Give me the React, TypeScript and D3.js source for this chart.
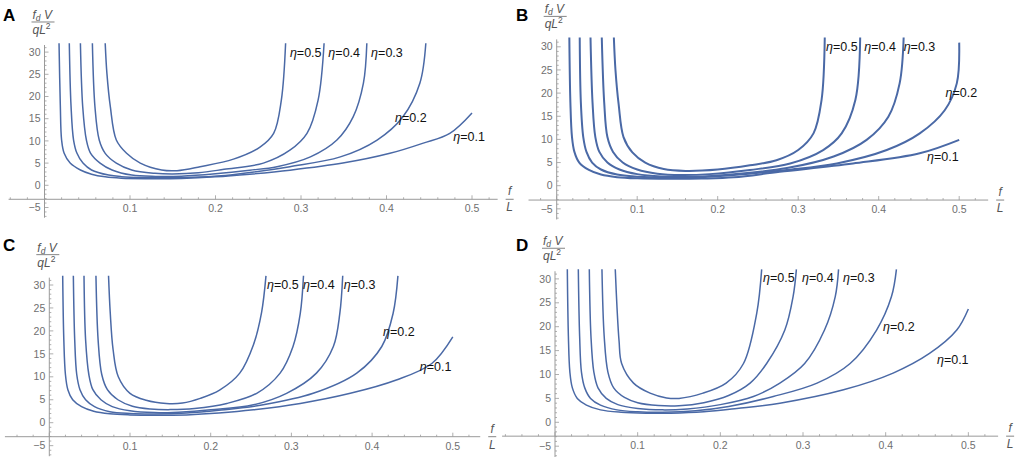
import React from 'react';
import * as d3 from 'd3';

// eta values shown next to the curves
const etaValues = ['0.1', '0.2', '0.3', '0.4', '0.5'];
const xTickValues = [0.1, 0.2, 0.3, 0.4, 0.5];
const yTickValues = [-5, 0, 5, 10, 15, 20, 25, 30];

// Panel A curves, [f/L, fdV/qL^2]
const a1 = [[0.017, 32], [0.0185, 18], [0.02, 10.2], [0.023, 7.2], [0.03, 5], [0.042, 3.45], [0.055, 2.5], [0.071, 1.9], [0.09, 1.6], [0.12, 1.5], [0.16, 1.55], [0.2, 1.9], [0.24, 2.5], [0.287, 3.4], [0.349, 5], [0.404, 7.2], [0.443, 9.5], [0.474, 11.7], [0.5, 16.3]];
const a2 = [[0.029, 32], [0.031, 18], [0.034, 10.2], [0.038, 7.2], [0.045, 5], [0.055, 3.45], [0.075, 2.3], [0.09, 1.95], [0.12, 1.75], [0.15, 1.7], [0.18, 1.85], [0.22, 2.4], [0.287, 4.2], [0.346, 6.4], [0.389, 10.2], [0.419, 15.4], [0.439, 23], [0.446, 32]];
const a3 = [[0.042, 32], [0.0447, 17.7], [0.049, 10.2], [0.054, 7.2], [0.065, 5], [0.079, 3.45], [0.102, 2.3], [0.13, 2.0], [0.16, 2.05], [0.2, 2.6], [0.24, 3.4], [0.272, 4.2], [0.311, 6.4], [0.342, 10.2], [0.361, 15.4], [0.373, 23], [0.377, 32]];
const a4 = [[0.056, 32], [0.059, 17.7], [0.064, 10.2], [0.071, 7.2], [0.084, 5], [0.102, 3.45], [0.129, 2.7], [0.15, 2.55], [0.18, 2.8], [0.21, 3.6], [0.256, 5], [0.287, 7.9], [0.307, 11.7], [0.32, 19.2], [0.327, 32]];
const a5 = [[0.071, 32], [0.073, 25.2], [0.077, 17.7], [0.084, 10.2], [0.096, 7.2], [0.112, 5], [0.137, 3.45], [0.155, 3.3], [0.182, 4.2], [0.221, 5.9], [0.252, 8.6], [0.268, 11.7], [0.277, 19.2], [0.282, 32]];

// Panel B curves
const b1 = [[0.0157, 32], [0.017, 18], [0.019, 10.5], [0.022, 7.3], [0.028, 5], [0.04, 3.4], [0.055, 2.4], [0.075, 1.85], [0.1, 1.6], [0.14, 1.5], [0.18, 1.55], [0.22, 1.8], [0.277, 3], [0.368, 4.8], [0.451, 7], [0.5, 9.9]];
const b2 = [[0.0286, 32], [0.03, 18], [0.033, 10.5], [0.037, 7.3], [0.044, 5], [0.055, 3.5], [0.075, 2.4], [0.1, 1.95], [0.14, 1.75], [0.18, 1.85], [0.22, 2.3], [0.286, 3.4], [0.348, 4.8], [0.41, 7.7], [0.451, 11.3], [0.482, 16.3], [0.497, 22.1], [0.5, 30.9]];
const b3 = [[0.042, 32], [0.0445, 18], [0.048, 10.5], [0.053, 7.3], [0.063, 5], [0.078, 3.5], [0.1, 2.5], [0.13, 2.0], [0.17, 1.95], [0.22, 2.5], [0.286, 3.8], [0.344, 6.3], [0.385, 9.9], [0.412, 14.9], [0.426, 22.1], [0.431, 32]];
const b4 = [[0.056, 32], [0.059, 18], [0.063, 10.5], [0.07, 7.3], [0.082, 5], [0.1, 3.5], [0.125, 2.6], [0.155, 2.3], [0.19, 2.5], [0.24, 3.4], [0.29, 4.8], [0.331, 7.7], [0.354, 11.3], [0.371, 18.5], [0.377, 32]];
const b5 = [[0.071, 32], [0.073, 25], [0.077, 17.5], [0.083, 10.5], [0.094, 7.2], [0.11, 5], [0.133, 3.6], [0.16, 3.2], [0.2, 3.5], [0.24, 4.4], [0.273, 5.5], [0.3, 7.7], [0.319, 11.3], [0.329, 18.5], [0.333, 32]];

// Panel C curves
const c1 = [[0.0166, 32], [0.018, 18], [0.02, 10.5], [0.023, 7.2], [0.029, 5], [0.04, 3.5], [0.055, 2.5], [0.075, 1.95], [0.1, 1.7], [0.13, 1.6], [0.17, 1.7], [0.21, 2.1], [0.253, 2.8], [0.311, 4.2], [0.373, 6.4], [0.43, 9.3], [0.474, 12.9], [0.5, 18.7]];
const c2 = [[0.0298, 32], [0.0315, 18], [0.034, 10.5], [0.038, 7.2], [0.045, 5], [0.056, 3.5], [0.075, 2.4], [0.1, 2.0], [0.13, 1.9], [0.17, 2.1], [0.21, 2.7], [0.265, 3.9], [0.327, 6.4], [0.381, 10.8], [0.412, 16.6], [0.426, 23.8], [0.432, 32]];
const c3 = [[0.043, 32], [0.045, 18], [0.049, 10.5], [0.054, 7.2], [0.064, 5], [0.078, 3.5], [0.1, 2.6], [0.13, 2.2], [0.16, 2.3], [0.2, 2.8], [0.253, 3.9], [0.294, 6.4], [0.331, 10.8], [0.352, 16.6], [0.36, 23.8], [0.3636, 32]];
const c4 = [[0.0578, 32], [0.0605, 18], [0.065, 10.5], [0.072, 7.2], [0.085, 5], [0.103, 3.6], [0.125, 3.0], [0.15, 2.85], [0.18, 3.1], [0.22, 4.2], [0.257, 6.4], [0.286, 10.8], [0.302, 16.6], [0.311, 23.8], [0.315, 32]];
const c5 = [[0.0734, 32], [0.0755, 24], [0.079, 16], [0.0855, 10], [0.1, 6.4], [0.12, 4.9], [0.145, 4.2], [0.165, 4.3], [0.187, 5.3], [0.211, 7.1], [0.236, 10.8], [0.253, 17], [0.263, 24], [0.2685, 32]];

// Panel D curves
const d1 = [[0.0149, 32], [0.0162, 18], [0.018, 10.5], [0.021, 7.2], [0.027, 5], [0.038, 3.6], [0.055, 2.6], [0.08, 2.1], [0.11, 1.9], [0.14, 1.9], [0.18, 2.2], [0.22, 2.9], [0.272, 4.0], [0.349, 6.8], [0.409, 10.3], [0.453, 14.4], [0.486, 19.3], [0.5, 23.7]];
const d2 = [[0.0282, 32], [0.0298, 18], [0.032, 10.5], [0.036, 7.2], [0.043, 5], [0.055, 3.6], [0.075, 2.6], [0.1, 2.2], [0.13, 2.1], [0.17, 2.4], [0.21, 3.3], [0.264, 5.4], [0.317, 8.2], [0.357, 12.3], [0.389, 19.3], [0.407, 26.3], [0.413, 32]];
const d3c = [[0.0415, 32], [0.0435, 18], [0.047, 10.5], [0.052, 7.2], [0.062, 5], [0.076, 3.7], [0.1, 2.9], [0.13, 2.6], [0.16, 2.8], [0.2, 3.7], [0.24, 5.4], [0.272, 8.2], [0.302, 12.3], [0.326, 19.3], [0.339, 26.3], [0.343, 32]];
const d4 = [[0.0568, 32], [0.0595, 18], [0.064, 10.5], [0.071, 7.2], [0.084, 5.2], [0.1, 4.1], [0.125, 3.5], [0.15, 3.45], [0.18, 4.1], [0.21, 5.6], [0.236, 8.2], [0.256, 12.3], [0.278, 19.3], [0.288, 26.3], [0.292, 32]];
const d5 = [[0.0729, 32], [0.075, 24], [0.0775, 17], [0.0806, 12.3], [0.095, 8.2], [0.115, 6.1], [0.135, 5.1], [0.15, 5.0], [0.179, 6.1], [0.207, 8.2], [0.228, 12.3], [0.244, 22.8], [0.25, 32]];

// label anchors (data coords) for eta = 0.1 ... 0.5
const labelsA = [[0.478, 10.0], [0.41, 14.3], [0.382, 28.9], [0.332, 28.9], [0.287, 28.9]];
const labelsB = [[0.46, 5.3], [0.483, 19.2], [0.431, 29.1], [0.382, 29.1], [0.3345, 29.1]];
const labelsC = [[0.459, 11.3], [0.4135, 18.9], [0.365, 29.1], [0.3144, 29.1], [0.2698, 29.1]];
const labelsD = [[0.462, 12.2], [0.3968, 19.1], [0.3484, 29.3], [0.2988, 29.3], [0.2516, 29.3]];

const panels = [
  { letter: 'A', lx: 3, ly: 21, curves: [a1, a2, a3, a4, a5], labels: labelsA, x0: 44.5, kx: 855, y0: 185.3, ky: 4.44, axisY: -3.15, xmin: -0.042, xmax: 0.53, width: 1.5 },
  { letter: 'B', lx: 516, ly: 21, curves: [b1, b2, b3, b4, b5], labels: labelsB, x0: 556.7, kx: 805, y0: 185.7, ky: 4.63, axisY: -3.1, xmin: -0.035, xmax: 0.536, width: 2 },
  { letter: 'C', lx: 3, ly: 251, curves: [c1, c2, c3, c4, c5], labels: labelsC, x0: 49.3, kx: 807, y0: 422.7, ky: 4.59, axisY: -3.05, xmin: -0.055, xmax: 0.534, width: 1.5 },
  { letter: 'D', lx: 516, ly: 251, curves: [d1, d2, d3c, d4, d5], labels: labelsD, x0: 555, kx: 826.7, y0: 422.3, ky: 4.78, axisY: -2.9, xmin: -0.064, xmax: 0.536, width: 1.5 },
];

const font = 'Liberation Sans, Arial, sans-serif';
const lineColor = '#4a69a6';
const axisColor = '#9a9a9a';
const tickText = '#707070';

const Panel = ({ p }) => {
  const x = d3.scaleLinear().domain([0, 0.5]).range([p.x0, p.x0 + 0.5 * p.kx]);
  const y = d3.scaleLinear().domain([0, 30]).range([p.y0, p.y0 - 30 * p.ky]);
  const line = d3.line().x(d => x(d[0])).y(d => y(d[1])).curve(d3.curveCatmullRom.alpha(0.5));
  const ax = y(p.axisY);
  const xMinor = d3.range(Math.ceil(p.xmin * 50), Math.floor(p.xmax * 50) + 1);
  const yMinor = d3.range(-7, 32);
  const yBottom = y(-7.3);
  const yTop = y(31.6);
  const xEnd = x(p.xmax);

  return (
    <g>
      {/* axes */}
      <line x1={x(p.xmin)} x2={xEnd} y1={ax} y2={ax} stroke={axisColor} strokeWidth={1} />
      <line x1={x(0)} x2={x(0)} y1={yBottom} y2={yTop} stroke={axisColor} strokeWidth={1} />
      {xMinor.map(i => (
        <line key={'xt' + i} x1={x(i / 50)} x2={x(i / 50)} y1={ax} y2={ax - (i % 5 === 0 ? 4 : 2)} stroke={axisColor} strokeWidth={0.8} />
      ))}
      {yMinor.map(v => (
        <line key={'yt' + v} x1={x(0)} x2={x(0) + (v % 5 === 0 ? 4 : 2)} y1={y(v)} y2={y(v)} stroke={axisColor} strokeWidth={0.8} />
      ))}
      {xTickValues.map(v => (
        <text key={'xl' + v} x={x(v)} y={ax + 13} textAnchor="middle" fontSize={10.5} fill={tickText} fontFamily={font}>{v.toFixed(1)}</text>
      ))}
      {yTickValues.map(v => (
        <text key={'yl' + v} x={x(0) - 4} y={y(v)} dy="0.35em" textAnchor="end" fontSize={10.5} fill={tickText} fontFamily={font}>{v < 0 ? '\u2212' + Math.abs(v) : v}</text>
      ))}

      {/* axis titles */}
      <g fontFamily={font} fill="#555" fontSize={12} fontStyle="italic">
        <text x={xEnd + 12} y={ax - 4} textAnchor="middle">f</text>
        <line x1={xEnd + 8} x2={xEnd + 16} y1={ax} y2={ax} stroke="#666" strokeWidth={0.8} />
        <text x={xEnd + 12} y={ax + 12} textAnchor="middle">L</text>
        <text x={x(0) - 12} y={yTop - 26}>
          f<tspan fontSize={8.5} dy={2}>d</tspan><tspan dy={-2}> V</tspan>
        </text>
        <line x1={x(0) - 13} x2={x(0) + 10} y1={yTop - 23} y2={yTop - 23} stroke="#666" strokeWidth={0.8} />
        <text x={x(0) - 12} y={yTop - 11}>
          qL<tspan fontSize={8.5} dy={-5} fontStyle="normal">2</tspan>
        </text>
      </g>
      <text x={p.lx} y={p.ly} fontSize={17} fontWeight="bold" fontFamily={font} fill="#000">{p.letter}</text>

      {/* curves */}
      {p.curves.map((c, i) => (
        <path key={'c' + i} d={line(c)} fill="none" stroke={lineColor} strokeWidth={p.width} />
      ))}
      {p.labels.map((l, i) => (
        <text key={'l' + i} x={x(l[0])} y={y(l[1])} fontSize={12.5} fontFamily={font} fill="#111">
          <tspan fontStyle="italic">η</tspan>={etaValues[i]}
        </text>
      ))}
    </g>
  );
};

const App = () => (
  <svg width={1020} height={457} style={{ position: 'absolute', left: 0, top: 0, background: '#fff' }}>
    {panels.map(p => <Panel key={p.letter} p={p} />)}
  </svg>
);

export default App;
